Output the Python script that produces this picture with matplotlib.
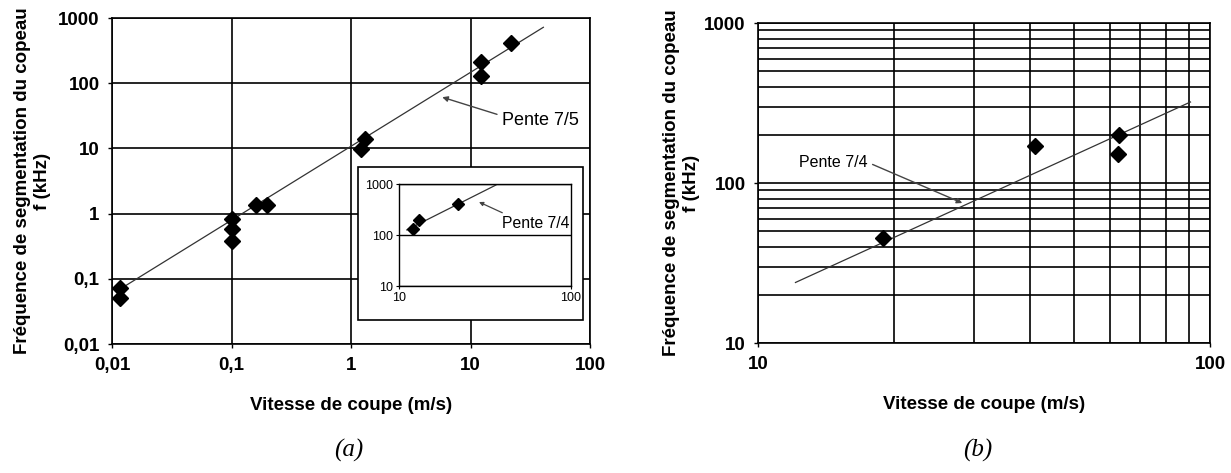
import matplotlib
matplotlib.use("Agg")
from matplotlib import pyplot as plt
from matplotlib.ticker import FixedLocator, FixedFormatter, NullFormatter, LogLocator
from matplotlib.patches import Rectangle

plt.rcParams['font.family'] = ['Liberation Sans', 'DejaVu Sans']

# ---- panel (a) data ----
va = [0.0116, 0.0116, 0.1, 0.1, 0.1, 0.161, 0.197, 1.22, 1.30, 12.2, 12.3, 21.8]
fa = [0.072, 0.051, 0.84, 0.59, 0.38, 1.34, 1.34, 9.8, 14, 128, 214, 411]
fit_a_v = [0.011, 40.7]
fit_a_f = [0.065, 721]

# inset of (a)
v_in = [12.0, 13.0, 21.9]
f_in = [130, 197, 400]
fit_in_v = [11.1, 36.6]
fit_in_f = [126, 955]

# ---- panel (b) data ----
vb = [18.9, 41.0, 62.8, 62.5]
fb = [45.2, 171, 201, 151]
fit_b_v = [12.1, 90.5]
fit_b_f = [23.9, 321]

xticks_a = [0.01, 0.1, 1, 10, 100]
xlabels_a = ["0,01", "0,1", "1", "10", "100"]
yticks_a = [0.01, 0.1, 1, 10, 100, 1000]
ylabels_a = ["0,01", "0,1", "1", "10", "100", "1000"]

ylab = "Fréquence de segmentation du copeau\nf (kHz)"
xlab = "Vitesse de coupe (m/s)"

LINE_C = "#333333"
TICK_FS = 13.5
LAB_FS = 13.5


def main():
    fig = plt.figure(figsize=(12.31, 4.73), dpi=100)

    # (a)
    ax = fig.add_axes([0.0910, 0.2727, 0.3883, 0.6892])
    ax.set_xscale("log")
    ax.set_yscale("log")
    ax.set_xlim(0.01, 100)
    ax.set_ylim(0.01, 1000)
    ax.xaxis.set_major_locator(FixedLocator(xticks_a))
    ax.xaxis.set_major_formatter(FixedFormatter(xlabels_a))
    ax.yaxis.set_major_locator(FixedLocator(yticks_a))
    ax.yaxis.set_major_formatter(FixedFormatter(ylabels_a))
    ax.xaxis.set_minor_locator(FixedLocator([]))
    ax.yaxis.set_minor_locator(FixedLocator([]))
    ax.grid(True, color="black", lw=1.2)
    ax.plot(fit_a_v, fit_a_f, color=LINE_C, lw=0.9)
    ax.plot(va, fa, "D", color="black", ms=8)
    ax.annotate("Pente 7/5", xy=(5.8, 61), xytext=(18.5, 27),
                fontsize=13, va="center", ha="left",
                arrowprops=dict(arrowstyle="-|>", color="#444444", lw=1,
                                shrinkA=2, shrinkB=0, mutation_scale=8,
                                relpos=(0, 0.75)))
    ax.tick_params(labelsize=TICK_FS, length=3, width=1, pad=6)
    for t in ax.get_xticklabels() + ax.get_yticklabels():
        t.set_fontweight("bold")
    ax.set_xlabel(xlab, fontsize=LAB_FS, fontweight="bold", labelpad=17)
    ax.set_ylabel(ylab, fontsize=LAB_FS, fontweight="bold", labelpad=5)
    for s in ax.spines.values():
        s.set_linewidth(1.2)

    # inset frame
    fig.patches.append(Rectangle((0.2908, 0.3235), 0.1828, 0.3235, transform=fig.transFigure,
                                 fc="white", ec="black", lw=1.2, zorder=5))
    ins = fig.add_axes([0.3241, 0.3953, 0.1397, 0.2156])
    ins.set_zorder(6)
    ins.set_xscale("log")
    ins.set_yscale("log")
    ins.set_xlim(10, 100)
    ins.set_ylim(10, 1000)
    ins.xaxis.set_major_locator(FixedLocator([10, 100]))
    ins.xaxis.set_major_formatter(FixedFormatter(["10", "100"]))
    ins.yaxis.set_major_locator(FixedLocator([10, 100, 1000]))
    ins.yaxis.set_major_formatter(FixedFormatter(["10", "100", "1000"]))
    ins.xaxis.set_minor_locator(FixedLocator([]))
    ins.yaxis.set_minor_locator(FixedLocator([]))
    ins.grid(True, axis="y", color="black", lw=1)
    ins.plot(fit_in_v, fit_in_f, color=LINE_C, lw=0.9)
    ins.plot(v_in, f_in, "D", color="black", ms=6)
    ins.annotate("Pente 7/4", xy=(29.2, 444), xytext=(39.5, 172),
                 fontsize=11.3, va="center", ha="left",
                 arrowprops=dict(arrowstyle="-|>", color="#444444", lw=0.9,
                                 shrinkA=0, shrinkB=0, mutation_scale=6,
                                 relpos=(0.1, 1.0)))
    ins.tick_params(labelsize=9, length=2, pad=2)
    for s in ins.spines.values():
        s.set_linewidth(1)

    # (b)
    bx = fig.add_axes([0.6158, 0.2748, 0.3672, 0.6765])
    bx.set_xscale("log")
    bx.set_yscale("log")
    bx.set_xlim(10, 100)
    bx.set_ylim(10, 1000)
    bx.xaxis.set_major_locator(FixedLocator([10, 100]))
    bx.xaxis.set_major_formatter(FixedFormatter(["10", "100"]))
    bx.yaxis.set_major_locator(FixedLocator([10, 100, 1000]))
    bx.yaxis.set_major_formatter(FixedFormatter(["10", "100", "1000"]))
    bx.xaxis.set_minor_locator(LogLocator(base=10, subs=range(2, 10)))
    bx.yaxis.set_minor_locator(LogLocator(base=10, subs=range(2, 10)))
    bx.xaxis.set_minor_formatter(NullFormatter())
    bx.yaxis.set_minor_formatter(NullFormatter())
    bx.grid(True, which="both", color="black", lw=1.2)
    bx.plot(fit_b_v, fit_b_f, color=LINE_C, lw=0.9)
    bx.plot(vb, fb, "D", color="black", ms=8)
    bx.annotate("Pente 7/4", xy=(28.3, 75), xytext=(12.3, 135),
                fontsize=11.5, va="center", ha="left",
                bbox=dict(fc="white", ec="none", pad=1),
                arrowprops=dict(arrowstyle="-|>", color="#444444", lw=1,
                                shrinkA=3, shrinkB=0, mutation_scale=8,
                                relpos=(1.0, 0.5)))
    bx.tick_params(which="major", labelsize=TICK_FS, length=3, width=1, pad=6)
    bx.tick_params(which="minor", length=0)
    for t in bx.get_xticklabels() + bx.get_yticklabels():
        t.set_fontweight("bold")
    bx.set_xlabel(xlab, fontsize=LAB_FS, fontweight="bold", labelpad=17)
    bx.set_ylabel(ylab, fontsize=LAB_FS, fontweight="bold", labelpad=3)
    for s in bx.spines.values():
        s.set_linewidth(1.2)

    fig.text(0.2835, 0.034, "(a)", fontsize=18, style="italic", family="Liberation Serif", ha="center")
    fig.text(0.794, 0.034, "(b)", fontsize=18, style="italic", family="Liberation Serif", ha="center")

    fig.savefig("out.png", dpi=100)


if __name__ == "__main__":
    main()
